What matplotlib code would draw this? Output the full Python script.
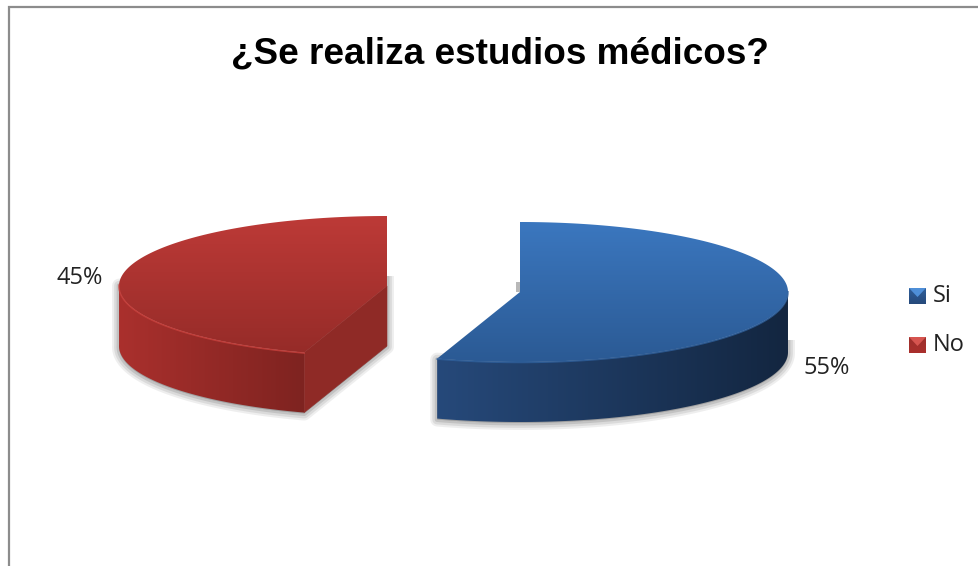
import numpy as np
import matplotlib
matplotlib.use("Agg")
import matplotlib.pyplot as plt
from matplotlib.patches import Polygon, Rectangle
from matplotlib.colors import to_rgb

title = "¿Se realiza estudios médicos?"
labels = ["Si", "No"]
values = [55, 45]
value_labels = ["55%", "45%"]

W, H = 979, 566
rx, ry, depth = 268, 70, 60  # ellipse radii and thickness, in px
centers = [(520, 292), (387, 286)]  # each slice is pulled out from the middle

top_cols = [("#3b77bf", "#2b5a94"), ("#bd3a37", "#952b28")]
side_cols = [("#26497a", "#132640"), ("#aa302d", "#7e2320")]
key_cols = [("#4f8fd8", "#2f5f9b"), ("#d65550", "#9c2f2c")]
inner_col = "#8f2a26"
rim_cols = ["#2f609c", "#c8403c"]
lab_pos = [(827, 368), (80, 278)]
leg_y = [296, 345]

fig = plt.figure(figsize=(W / 100, H / 100), dpi=100)
ax = fig.add_axes([0, 0, 1, 1])
ax.set_xlim(0, W)
ax.set_ylim(H, 0)
ax.axis("off")


def gradient(c0, c1, extent, vertical, clip, z):
    # colour ramp clipped to a polygon
    c0, c1 = np.array(to_rgb(c0)), np.array(to_rgb(c1))
    t = np.linspace(0, 1, 256)
    ramp = c0[None, :] * (1 - t[:, None]) + c1[None, :] * t[:, None]
    img = ramp[:, None, :] if vertical else ramp[None, :, :]
    im = ax.imshow(img, extent=extent, aspect="auto", zorder=z, interpolation="bilinear")
    patch = Polygon(clip, closed=True, transform=ax.transData, fc="none", ec="none")
    ax.add_patch(patch)
    im.set_clip_path(patch)


# frame around the chart area
ax.plot([9.5, 9.5, W], [H, 6.5, 6.5], color="#8c8c8c", lw=1.6, zorder=1, solid_joinstyle="miter")

ax.text(500, 54, title, family="Liberation Sans", weight="bold", fontsize=26.6,
        ha="center", va="center", color="black")

# slice angles, clockwise from twelve o'clock
fracs = np.array(values) / np.sum(values)
edges = np.concatenate([[0], np.cumsum(fracs)]) * 2 * np.pi

for i in range(len(values)):
    cx, cy = centers[i]
    a = np.linspace(edges[i], edges[i + 1], 300)
    arc = np.column_stack([cx + rx * np.sin(a), cy - ry * np.cos(a)])
    top = np.vstack([[cx, cy], arc])

    # the part of the rim facing the viewer
    front = arc[np.cos(a) < 0.02]
    low = front + [0, depth]
    side = np.vstack([front, low[::-1]])
    x0, x1 = front[:, 0].min(), front[:, 0].max()

    # soft shadow under the slice
    if i == 0:
        sil = side
        clip_y = cy + 48
    else:
        sil = np.vstack([low[::-1], [[cx, cy + depth]], [[cx, cy - 10]], front[-1:]])
        clip_y = cy - 10
    for lw, al in [(10, 0.12), (7, 0.16), (3.5, 0.24)]:
        sh = Polygon(sil + [0, 1], closed=True, fc="#777777", ec="#777777", lw=lw, alpha=al,
                     zorder=2, joinstyle="round")
        ax.add_patch(sh)
        sh.set_clip_path(Rectangle((0, clip_y), W, H, transform=ax.transData))
    if i == 0:
        ax.add_patch(Rectangle((cx - 4, cy - 10), 4, 10, fc="#9a9a9a", ec="none", alpha=0.7, zorder=2))

    # cut faces: only the red slice shows one
    if i == 1:
        px, py = arc[0]
        inner = [(cx, cy), (px, py), (px, py + depth), (cx, cy + depth)]
        ax.add_patch(Polygon(inner, closed=True, fc=inner_col, ec=inner_col, lw=0.4, zorder=3))

    gradient(side_cols[i][0], side_cols[i][1], (x0, x1, cy + ry + depth, cy), False, side, 4)
    gradient(top_cols[i][0], top_cols[i][1], (cx - rx, cx + rx, cy + ry, cy - ry), True, top, 5)
    ax.plot(front[:, 0], front[:, 1] + 0.5, color=rim_cols[i], lw=1.1, alpha=0.8, zorder=6)

    ax.text(lab_pos[i][0], lab_pos[i][1], value_labels[i], family="Open Sans", fontsize=17,
            ha="center", va="center", color="#222222")

    # legend key and its text
    ky = leg_y[i]
    key = [(909, ky - 8), (926, ky - 8), (926, ky + 8), (909, ky + 8)]
    notch = [(909, ky - 8), (926, ky - 8), (917.5, ky + 1)]
    gradient(key_cols[i][1], side_cols[i][0], (909, 926, ky + 8, ky - 8), True, key, 5)
    gradient(key_cols[i][0], key_cols[i][0], (909, 926, ky + 8, ky - 8), True, notch, 6)
    ax.text(933, ky, labels[i], family="Open Sans", fontsize=17, ha="left", va="center", color="#222222")

ax.set_xlim(0, W)
ax.set_ylim(H, 0)
fig.savefig("out.png", dpi=100, facecolor="white")
